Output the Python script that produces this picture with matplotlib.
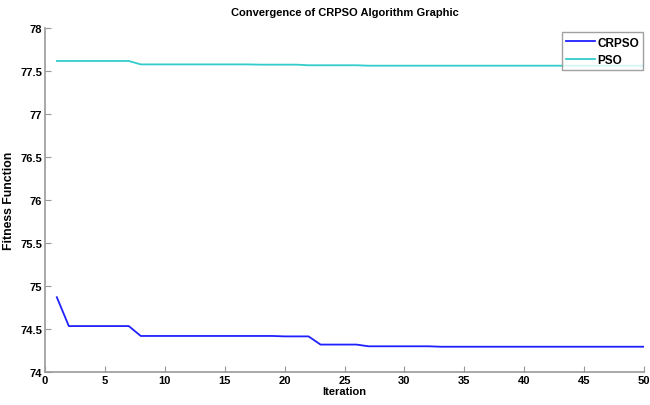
import numpy as np
import matplotlib
matplotlib.use("Agg")
import matplotlib.pyplot as plt

plt.rcParams['font.family'] = ['Liberation Sans', 'DejaVu Sans']
plt.rcParams['font.weight'] = 'bold'

# iterations 1..50
iteration = np.arange(1, 51)

# best fitness per iteration
crpso = [74.87] + [74.535]*6 + [74.42]*12 + [74.415]*3 + [74.32]*4 + [74.30]*6 + [74.295]*18
pso = [77.615]*7 + [77.575]*10 + [77.572]*4 + [77.565]*5 + [77.56]*24

xticks = np.arange(0, 51, 5)
yticks = [74, 74.5, 75, 75.5, 76, 76.5, 77, 77.5, 78]
ytick_labels = ['74', '74.5', '75', '75.5', '76', '76.5', '77', '77.5', '78']

fig = plt.figure(figsize=(6.5, 4.06), dpi=100)
ax = fig.add_axes([0.069, 0.081, 0.922, 0.848])

ax.plot(iteration, crpso, color='#2020ff', lw=1.3, label='CRPSO')
ax.plot(iteration, pso, color='#33cccc', lw=1.3, label='PSO')

ax.set_xlim(0, 50)
ax.set_ylim(74, 78)
ax.set_xticks(xticks)
ax.set_yticks(yticks)
ax.set_yticklabels(ytick_labels)
ax.tick_params(direction='in', length=4, labelsize=8, colors='#999999', labelcolor='black', pad=2)

for s in ['top', 'right']:
    ax.spines[s].set_visible(False)
for s in ['left', 'bottom']:
    ax.spines[s].set_color('#999999')
    ax.spines[s].set_linewidth(1.2)

ax.set_title('Convergence of CRPSO Algorithm Graphic', fontsize=8, fontweight='bold', pad=9)
ax.set_xlabel('Iteration', fontsize=8, fontweight='bold', labelpad=1)
ax.set_ylabel('Fitness Function', fontsize=8.8, fontweight='bold')
ax.yaxis.set_label_coords(-0.05, 0.5)

leg = ax.legend(loc='upper right', bbox_to_anchor=(1.0, 0.99), fontsize=8.5, frameon=True,
                fancybox=False, edgecolor='#888888', handlelength=2.4, handletextpad=0.2,
                borderpad=0.35, labelspacing=0.45, borderaxespad=0.1)
leg.get_frame().set_linewidth(1.0)

fig.savefig('out.png', dpi=100)
